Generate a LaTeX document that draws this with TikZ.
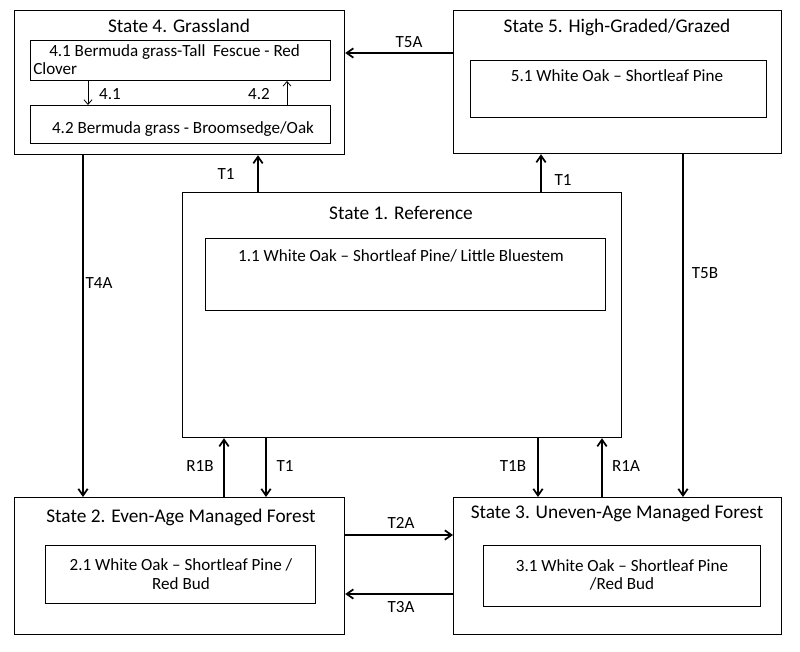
\documentclass[tikz,border=0pt]{standalone}
\usepackage{fontspec}
\setmainfont{Carlito}
\usetikzlibrary{arrows.meta}
\begin{document}
\begin{tikzpicture}[x=0.75pt,y=-0.75pt,
  box/.style={draw,line width=0.9pt,inner sep=0pt,anchor=north west},
  inbox/.style={draw,line width=0.7pt,inner sep=0pt,anchor=north west},
  lab/.style={font=\fontsize{12.8}{14}\selectfont,inner sep=0pt},
  ttl/.style={font=\fontsize{14.5}{16}\selectfont,inner sep=0pt},
  arr/.style={line width=1.5pt,-{Straight Barb[length=5pt,width=7pt,line width=1.3pt]}},
  sarr/.style={line width=0.6pt,-{Straight Barb[length=3.5pt,width=6pt]}}]
\useasboundingbox (0,0) rectangle (800,651);
% outer states
\node[box,minimum width=330*0.75pt,minimum height=144*0.75pt] (s4) at (14,10) {};
\node[box,minimum width=328*0.75pt,minimum height=143*0.75pt] (s5) at (453,10) {};
\node[box,minimum width=439*0.75pt,minimum height=245*0.75pt] (s1) at (182,192) {};
\node[box,minimum width=330*0.75pt,minimum height=137*0.75pt] (s2) at (14,497) {};
\node[box,minimum width=328*0.75pt,minimum height=137*0.75pt] (s3) at (453,497) {};
% inner boxes
\node[inbox,minimum width=300*0.75pt,minimum height=40*0.75pt] (b41) at (30,40) {};
\node[inbox,minimum width=300*0.75pt,minimum height=38*0.75pt] (b42) at (30,105) {};
\node[inbox,minimum width=296*0.75pt,minimum height=57*0.75pt] (b51) at (470,60) {};
\node[inbox,minimum width=400*0.75pt,minimum height=72*0.75pt] (b11) at (205,238) {};
\node[inbox,minimum width=270*0.75pt,minimum height=58*0.75pt] (b21) at (45,545) {};
\node[inbox,minimum width=277*0.75pt,minimum height=61*0.75pt] (b31) at (483,545) {};
% titles
\node[ttl] (t4) at (179,26) {State 4. Grassland};
\node[ttl] (t5) at (617,27) {State 5. High-Graded/Grazed};
\node[ttl] (t1) at (401,213) {State 1. Reference};
\node[ttl] (t2) at (181,517) {State 2. Even-Age Managed Forest};
\node[ttl] (t3) at (617,513) {State 3. Uneven-Age Managed Forest};
% inner texts
\node[lab,anchor=north west,align=left] (x41) at (33,44) {\hspace*{12pt}4.1 Bermuda grass-Tall\ \ Fescue - Red\\Clover};
\node[lab] (x42) at (183,129) {4.2 Bermuda grass - Broomsedge/Oak};
\node[lab] (x51) at (617,76) {5.1 White Oak -- Shortleaf Pine};
\node[lab] (x11) at (401,256) {1.1 White Oak -- Shortleaf Pine/ Little Bluestem};
\node[lab,align=center] (x21) at (181,574) {2.1 White Oak -- Shortleaf Pine /\\Red Bud};
\node[lab,align=center] (x31) at (622,575) {3.1 White Oak -- Shortleaf Pine\\/Red Bud};
% small transitions
\draw[sarr] (88,0 |- b41.south) -- (88,0 |- b42.north);
\draw[sarr] (287,0 |- b42.north) -- (287,0 |- b41.south);
\node[lab] (l41) at (110,94) {4.1};
\node[lab] (l42) at (259,94) {4.2};
% main transitions
\draw[arr] (258,0 |- s1.north) -- (258,0 |- s4.south);
\node[lab] (lt1a) at (226,174) {T1};
\draw[arr] (541,0 |- s1.north) -- (541,0 |- s5.south);
\node[lab] (lt1b) at (563,180) {T1};
\draw[arr] (s5.west |- 0,53) -- (s4.east |- 0,53);
\node[lab] (l5a) at (409,42) {T5A};
\draw[arr] (83,0 |- s4.south) -- (83,0 |- s2.north);
\node[lab] (l4a) at (99,283) {T4A};
\draw[arr] (683,0 |- s5.south) -- (683,0 |- s3.north);
\node[lab] (l5b) at (705,273) {T5B};
\draw[arr] (224,0 |- s2.north) -- (224,0 |- s1.south);
\node[lab] (l1b) at (200,466) {R1B};
\draw[arr] (266,0 |- s1.south) -- (266,0 |- s2.north);
\node[lab] (lt1c) at (285,466) {T1};
\draw[arr] (538,0 |- s1.south) -- (538,0 |- s3.north);
\node[lab] (l1bb) at (513,466) {T1B};
\draw[arr] (602,0 |- s3.north) -- (602,0 |- s1.south);
\node[lab] (l1a) at (626,466) {R1A};
\draw[arr] (s2.east |- 0,535) -- (s3.west |- 0,535);
\node[lab] (l2a) at (401,523) {T2A};
\draw[arr] (s3.west |- 0,594) -- (s2.east |- 0,594);
\node[lab] (l3a) at (401,607) {T3A};
\end{tikzpicture}
\end{document}
